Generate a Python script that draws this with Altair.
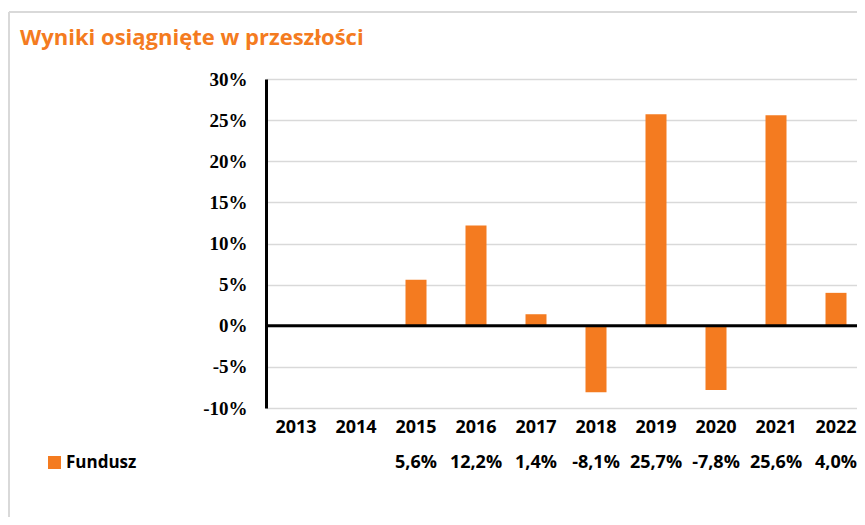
import altair as alt
import pandas as pd

years = ["2013", "2014", "2015", "2016", "2017", "2018", "2019", "2020", "2021", "2022"]
values = [None, None, 5.6, 12.2, 1.4, -8.1, 25.7, -7.8, 25.6, 4.0]
series_name = "Fundusz"
title_text = "Wyniki osiągnięte w przeszłości"
y_ticks = [-10, -5, 0, 5, 10, 15, 20, 25, 30]

ORANGE = "#F47B20"
GRID = "#D9D9D9"

labels = ["" if v is None else f"{v:.1f}%".replace(".", ",") for v in values]
df = pd.DataFrame({"year": years, "value": values, "label": labels, "series": series_name})
bars_df = df.dropna(subset=["value"])

PAD_L, PAD_T = 258, 71
TOTAL_W, TOTAL_H = 849, 509
W = TOTAL_W - PAD_L
H = 329

x_scale = alt.Scale(domain=years, range=[0, 600], paddingInner=0, paddingOuter=0)
y_scale = alt.Scale(domain=[-10, 30], nice=False)

x_enc = alt.X("year:N", scale=x_scale, sort=years,
              axis=alt.Axis(title=None, labelAngle=0, domain=False, ticks=False,
                            labelFont="Open Sans", labelFontWeight="bold", labelFontSize=18,
                            labelColor="#000000", labelPadding=10, labelBaseline="top"))

bars = alt.Chart(bars_df).mark_bar(size=21).encode(
    x=x_enc,
    y=alt.Y("value:Q", scale=y_scale,
            axis=alt.Axis(title=None, values=y_ticks, ticks=False, domainColor="#000000",
                          domainWidth=3, gridColor=GRID, gridWidth=1.5,
                          labelExpr="datum.value + '%'", labelFont="Liberation Serif",
                          labelFontWeight="bold", labelFontSize=19, labelColor="#000000",
                          labelPadding=19)),
    color=alt.Color("series:N", scale=alt.Scale(domain=[series_name], range=[ORANGE]),
                    legend=alt.Legend(orient="none", legendX=-220, legendY=375, title=None,
                                      symbolType="square", symbolSize=169, symbolStrokeWidth=0,
                                      symbolOpacity=1,
                                      labelFont="Open Sans", labelFontWeight="bold",
                                      labelFontSize=17, labelColor="#000000", labelOffset=3)),
)

zero = alt.Chart(pd.DataFrame({"z": [0]})).mark_rule(color="#000000", strokeWidth=3).encode(
    y=alt.Y("z:Q", scale=y_scale), x=alt.value(0), x2=alt.value(W + 20)
)

row = alt.Chart(df).mark_text(font="Open Sans", fontWeight="bold", fontSize=18,
                              color="#000000", baseline="middle").encode(
    x=alt.X("year:N", scale=x_scale, sort=years),
    y=alt.value(384),
    text="label:N",
)

title = alt.Chart(pd.DataFrame({"t": [title_text]})).mark_text(
    font="Open Sans", fontWeight="bold", fontSize=22, color=ORANGE, align="left",
    baseline="alphabetic").encode(text="t:N", x=alt.value(-246), y=alt.value(-34))

frame_left = alt.Chart(pd.DataFrame({"a": [0]})).mark_rule(color=GRID, strokeWidth=2).encode(
    x=alt.value(-257), y=alt.value(-67), y2=alt.value(600))
frame_top = alt.Chart(pd.DataFrame({"a": [0]})).mark_rule(color=GRID, strokeWidth=2).encode(
    y=alt.value(-67), x=alt.value(-257), x2=alt.value(800))

chart = alt.layer(frame_left, frame_top, bars, zero, row, title).properties(
    width=W, height=H,
    padding={"left": PAD_L, "top": PAD_T, "right": 0, "bottom": TOTAL_H - PAD_T - H},
    autosize=alt.AutoSizeParams(type="none"),
).configure_view(stroke=None)

chart.save("out.html", embed_options={"renderer": "svg", "actions": False})
